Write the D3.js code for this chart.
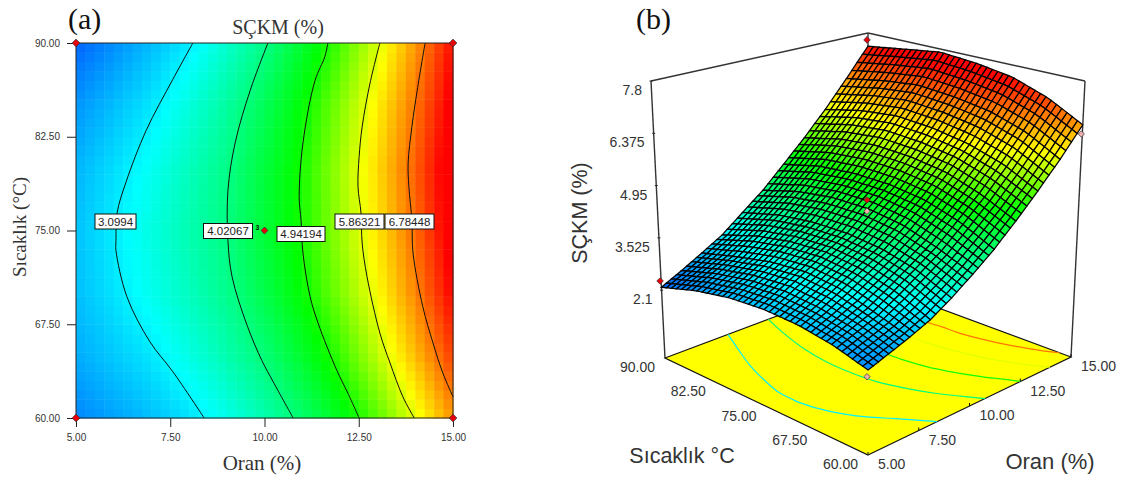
<!DOCTYPE html>
<html>
<head>
<meta charset="utf-8">
<script src="https://cdn.jsdelivr.net/npm/d3@7"></script>
<style>
    body { margin: 0; background: #fff; }
    svg { display: block; }
</style>
</head>
<body>
<svg width="1123" height="480"></svg>
<script>
// values
const oranValues = [5, 6, 7, 8, 9, 10, 11, 12, 13, 14, 15];
const tempValues = [60, 65, 70, 75, 80, 85, 90];
const zAt60 = [2.41, 2.59, 2.78, 3.00, 3.33, 3.72, 4.15, 4.67, 5.25, 5.88, 6.60];
const zAt65 = [2.65, 2.85, 3.05, 3.37, 3.72, 4.08, 4.57, 5.09, 5.70, 6.38, 7.11];
const zAt70 = [2.78, 3.02, 3.31, 3.62, 3.94, 4.37, 4.85, 5.40, 5.99, 6.69, 7.46];
const zAt75 = [2.80, 3.08, 3.39, 3.71, 4.02, 4.49, 4.96, 5.53, 6.15, 6.84, 7.62];
const zAt80 = [2.71, 2.98, 3.28, 3.63, 3.98, 4.46, 4.95, 5.56, 6.21, 6.92, 7.71];
const zAt85 = [2.50, 2.77, 3.04, 3.42, 3.82, 4.29, 4.83, 5.43, 6.08, 6.79, 7.56];
const zAt90 = [2.18, 2.45, 2.75, 3.07, 3.52, 3.98, 4.55, 5.15, 5.82, 6.58, 7.40];
const zRows = [zAt60, zAt65, zAt70, zAt75, zAt80, zAt85, zAt90];

const contourLevels = [3.0994, 4.02067, 4.94194, 5.86321, 6.78448];
const contourLabels = ["3.0994", "4.02067", "4.94194", "5.86321", "6.78448"];
const contour1 = [[8.10, 90], [7.57, 87.1], [6.86, 83], [6.33, 78.9], [6.09, 76.4], [6.06, 74.2], [6.06, 73.4], [6.35, 69.7], [6.96, 66.1], [7.57, 63.7], [8.40, 60]];
const contour2 = [[10.09, 90], [9.62, 86.2], [9.22, 82], [9.03, 78.2], [9.03, 74.2], [9.14, 71.3], [9.54, 67.4], [9.93, 64.6], [10.23, 62.9], [10.76, 60]];
const contour3 = [[11.68, 90], [11.6, 88.9], [11.34, 87], [11.02, 82], [10.92, 77.7], [10.97, 75.8], [11.02, 73.2], [11.21, 69.7], [11.42, 67.6], [11.92, 63.8], [12.21, 62], [12.51, 60]];
const contour4 = [[13.06, 90], [12.8, 86.8], [12.59, 83.3], [12.51, 80.9], [12.48, 78.5], [12.56, 76.4], [12.59, 74], [12.72, 71.3], [13.06, 66.8], [13.33, 64.4], [13.67, 61.7], [13.97, 60]];
const contour5 = [[14.26, 90], [14.05, 86.2], [13.91, 83.3], [13.81, 80.4], [13.83, 78.5], [13.91, 75.8], [13.94, 73.2], [14.2, 68.9], [14.47, 66], [14.73, 63.6], [15, 61.7]];
const contours = [contour1, contour2, contour3, contour4, contour5];

const oranTicks = [5, 7.5, 10, 12.5, 15];
const tempTicks = [60, 67.5, 75, 82.5, 90];
const zTicks = [2.1, 3.525, 4.95, 6.375, 7.8];

// design points: corners and centre of the design
const cornerOran = [5, 15, 5, 15];
const cornerTemp = [60, 60, 90, 90];
const pointsAbove = [[5, 90, 2.35], [15, 90, 7.59], [10, 75, 4.73]];
const pointsBelow = [[15, 60, 6.35], [5, 60, 2.24], [10, 75, 4.42]];

var svg = d3.select("svg");
const sans = "'Liberation Sans', Arial, sans-serif";
const serif = "'Liberation Serif', 'Times New Roman', serif";
const textColor = "#333";

// look up the surface between the values that were read
function zValue(o, t) {
    const i = Math.min(d3.bisectRight(oranValues, o) - 1, oranValues.length - 2);
    const j = Math.min(d3.bisectRight(tempValues, t) - 1, tempValues.length - 2);
    const fx = (o - oranValues[i]) / (oranValues[i + 1] - oranValues[i]);
    const fy = (t - tempValues[j]) / (tempValues[j + 1] - tempValues[j]);
    const low = d3.interpolateNumber(zRows[j][i], zRows[j][i + 1])(fx);
    const high = d3.interpolateNumber(zRows[j + 1][i], zRows[j + 1][i + 1])(fx);
    return d3.interpolateNumber(low, high)(fy);
}

const color = d3.scaleLinear()
    .domain([1.52, 3.2, 4.85, 6.0, 7.45])
    .range(["rgb(0,0,255)", "rgb(0,255,255)", "rgb(0,255,0)", "rgb(255,255,0)", "rgb(255,0,0)"])
    .clamp(true);

const cellCount = 40;
const cellIndex = d3.cross(d3.range(cellCount), d3.range(cellCount));

// ---------- panel (a) ----------
const x = d3.scaleLinear().domain([5, 15]).range([76, 453]);
const y = d3.scaleLinear().domain([60, 90]).range([418, 43]);
const cellOran = d3.scaleLinear().domain([0, cellCount]).range([5, 15]);
const cellTemp = d3.scaleLinear().domain([0, cellCount]).range([60, 90]);

svg.append("g")
    .selectAll("rect")
    .data(cellIndex)
    .enter()
    .append("rect")
    .attr("x", function (d) { return x(cellOran(d[0])); })
    .attr("y", function (d) { return y(cellTemp(d[1] + 1)); })
    .attr("width", x(cellOran(1)) - x(cellOran(0)) + 0.5)
    .attr("height", y(cellTemp(0)) - y(cellTemp(1)) + 0.5)
    .attr("fill", function (d) { return color(zValue(cellOran(d[0] + 0.5), cellTemp(d[1] + 0.5))); });

// contour lines
const contourLine = d3.line()
    .curve(d3.curveCatmullRom.alpha(0.5))
    .x(function (d) { return x(d[0]); })
    .y(function (d) { return y(d[1]); });

svg.append("g")
    .selectAll("path")
    .data(contours)
    .enter()
    .append("path")
    .attr("d", contourLine)
    .attr("fill", "none")
    .attr("stroke", "#111")
    .attr("stroke-width", 1);

// frame
svg.append("rect")
    .attr("x", x(5))
    .attr("y", y(90))
    .attr("width", x(15) - x(5))
    .attr("height", y(60) - y(90))
    .attr("fill", "none")
    .attr("stroke", "#222")
    .attr("stroke-width", 1);

// axes
const xAxis = d3.axisBottom(x).tickValues(oranTicks).tickSize(9).tickPadding(7).tickFormat(d3.format(".2f"));
const yAxis = d3.axisLeft(y).tickValues(tempTicks).tickSize(9).tickPadding(7).tickFormat(d3.format(".2f"));
[svg.append("g").attr("transform", "translate(0," + y(60) + ")").call(xAxis),
 svg.append("g").attr("transform", "translate(" + x(5) + ",0)").call(yAxis)].forEach(function (g) {
    g.select(".domain").remove();
    g.selectAll("line").attr("stroke", "#222");
    g.selectAll("text").attr("fill", textColor).style("font", "10px " + sans);
});

// contour labels
const labelCenters = [[115.5, 221.5], [228, 231], [301, 234], [359.5, 221.5], [409.5, 221.5]];
const labelWidths = [41, 49, 48, 49, 49];
contourLabels.forEach(function (label, i) {
    svg.append("rect")
        .attr("x", labelCenters[i][0] - labelWidths[i] / 2)
        .attr("y", labelCenters[i][1] - 7.5)
        .attr("width", labelWidths[i])
        .attr("height", 15)
        .attr("fill", "#fff")
        .attr("stroke", "#111")
        .attr("stroke-width", 1);
    svg.append("text")
        .attr("x", labelCenters[i][0])
        .attr("y", labelCenters[i][1])
        .attr("dy", ".36em")
        .attr("text-anchor", "middle")
        .attr("fill", "#222")
        .style("font", "11.5px " + sans)
        .text(label);
});

// design points in the flat view, square turned on its corner
const diamond = d3.symbol().type(d3.symbolSquare);
function marker(px, py, fill, size) {
    svg.append("path")
        .attr("d", diamond.size(size)())
        .attr("transform", "translate(" + px + "," + py + ") rotate(45)")
        .attr("fill", fill)
        .attr("stroke", "#333")
        .attr("stroke-width", 0.7);
}
cornerOran.forEach(function (o, i) {
    marker(x(o), y(cornerTemp[i]), "#e8000b", 30);
});
marker(x(10), y(75), "#e8000b", 24);
svg.append("text")
    .attr("x", x(10) - 9)
    .attr("y", y(75) - 1)
    .attr("fill", "#111")
    .style("font", "bold 7px " + sans)
    .text("3");

// titles
function label(txt, px, py, font, rotate) {
    svg.append("text")
        .attr("transform", "translate(" + px + "," + py + ")" + (rotate ? " rotate(-90)" : ""))
        .attr("text-anchor", "middle")
        .attr("fill", textColor)
        .style("font", font)
        .text(txt);
}
svg.append("text").attr("x", 68).attr("y", 29).attr("fill", "#111").style("font", "30px " + serif).text("(a)");
label("SÇKM (%)", 278, 34, "20px " + serif);
label("Oran (%)", 262, 470, "21px " + serif);
label("Sıcaklık (°C)", 26, 227, "19px " + serif, true);

// ---------- panel (b) ----------
// corners of the floor and of the top of the box, on screen
const floorCorners = { front: [868, 455], right: [1071, 357], left: [665, 358], back: [868, 282] };
const topCorners = { front: [868, 158], right: [1085, 81], left: [651, 81], back: [868, 33] };
const uScale = d3.scaleLinear().domain([5, 15]).range([0, 1]);
const vScale = d3.scaleLinear().domain([60, 90]).range([0, 1]);
const wScale = d3.scaleLinear().domain([2.1, 7.8]).range([0.245, 1]);

function corner(c, u, v) {
    return [0, 1].map(function (k) {
        return c.front[k] * (1 - u) * (1 - v) + c.right[k] * u * (1 - v) + c.left[k] * (1 - u) * v + c.back[k] * u * v;
    });
}
// o, t, z to screen; z null means the floor
function project(o, t, z) {
    const u = uScale(o), v = vScale(t), w = z === null ? 0 : wScale(z);
    const a = corner(floorCorners, u, v), b = corner(topCorners, u, v);
    return [a[0] + (b[0] - a[0]) * w, a[1] + (b[1] - a[1]) * w];
}

const line = d3.line();
const floorG = svg.append("g");

// floor
floorG.append("path")
    .attr("d", line([project(5, 60, null), project(15, 60, null), project(15, 90, null), project(5, 90, null)]) + "Z")
    .attr("fill", "#ffff00")
    .attr("stroke", "#111")
    .attr("stroke-width", 1.2);

// contours on the floor
const floorLine = d3.line().curve(d3.curveCatmullRom.alpha(0.5));
contours.forEach(function (c, i) {
    floorG.append("path")
        .attr("d", floorLine(c.map(function (d) { return project(d[0], d[1], null); })))
        .attr("fill", "none")
        .attr("stroke", color(contourLevels[i]))
        .attr("stroke-width", 1.2);
});

// box edges
const boxEdges = [
    [project(5, 90, null), [651, 81]],
    [project(15, 60, null), [1085, 81]],
    [[651, 81], [868, 33]],
    [[868, 33], [1085, 81]],
    [project(15, 90, null), [868, 33]]
];
floorG.selectAll(".edge")
    .data(boxEdges)
    .enter()
    .append("path")
    .attr("class", "edge")
    .attr("d", line)
    .attr("fill", "none")
    .attr("stroke", "#333")
    .attr("stroke-width", 1.4);

// surface, back to front
const quads = cellIndex.slice().sort(function (a, b) {
    return (b[0] + b[1]) - (a[0] + a[1]);
});
function meshPoint(i, j) {
    const o = cellOran(i), t = cellTemp(j);
    return project(o, t, zValue(o, t));
}
svg.append("g")
    .selectAll("path")
    .data(quads)
    .enter()
    .append("path")
    .attr("d", function (d) {
        return line([meshPoint(d[0], d[1]), meshPoint(d[0] + 1, d[1]), meshPoint(d[0] + 1, d[1] + 1), meshPoint(d[0], d[1] + 1)]) + "Z";
    })
    .attr("fill", function (d) { return color(zValue(cellOran(d[0] + 0.5), cellTemp(d[1] + 0.5))); })
    .attr("stroke", "#000")
    .attr("stroke-width", 1.25);

// design points on the surface
pointsBelow.forEach(function (p) {
    const s = project(p[0], p[1], p[2]);
    marker(s[0] - 1, s[1], "#f0b0b0", 20);
});
pointsAbove.forEach(function (p) {
    const s = project(p[0], p[1], p[2]);
    marker(s[0] - 1, s[1], "#e8000b", 22);
});

// z axis
zTicks.forEach(function (z) {
    const s = [665 + (651 - 665) * wScale(z), 358 + (81 - 358) * wScale(z)];
    svg.append("line")
        .attr("x1", s[0] - 1.5).attr("x2", s[0] + 1.5)
        .attr("y1", s[1]).attr("y2", s[1])
        .attr("stroke", "#222");
    svg.append("text")
        .attr("x", s[0] - 9)
        .attr("y", s[1] + 9)
        .attr("dy", ".36em")
        .attr("text-anchor", "end")
        .attr("fill", textColor)
        .style("font", "14px " + sans)
        .text(z);
});

// floor tick labels
oranTicks.forEach(function (o) {
    const s = project(o, 60, null);
    svg.append("line")
        .attr("x1", s[0]).attr("x2", s[0])
        .attr("y1", s[1]).attr("y2", s[1] - 3)
        .attr("stroke", "#111");
    svg.append("text")
        .attr("x", s[0] + 10)
        .attr("y", s[1] + 9)
        .attr("dy", ".36em")
        .attr("fill", textColor)
        .style("font", "14px " + sans)
        .text(o.toFixed(2));
});
tempTicks.forEach(function (t) {
    const s = project(5, t, null);
    svg.append("text")
        .attr("x", s[0] - 10)
        .attr("y", s[1] + 9)
        .attr("dy", ".36em")
        .attr("text-anchor", "end")
        .attr("fill", textColor)
        .style("font", "14px " + sans)
        .text(t.toFixed(2));
});

svg.append("text").attr("x", 636).attr("y", 29).attr("fill", "#111").style("font", "30px " + serif).text("(b)");
label("Sıcaklık °C", 682, 463, "21.5px " + sans);
label("Oran (%)", 1050, 469, "22px " + sans);
label("SÇKM (%)", 587, 213, "21.5px " + sans, true);
</script>
</body>
</html>
